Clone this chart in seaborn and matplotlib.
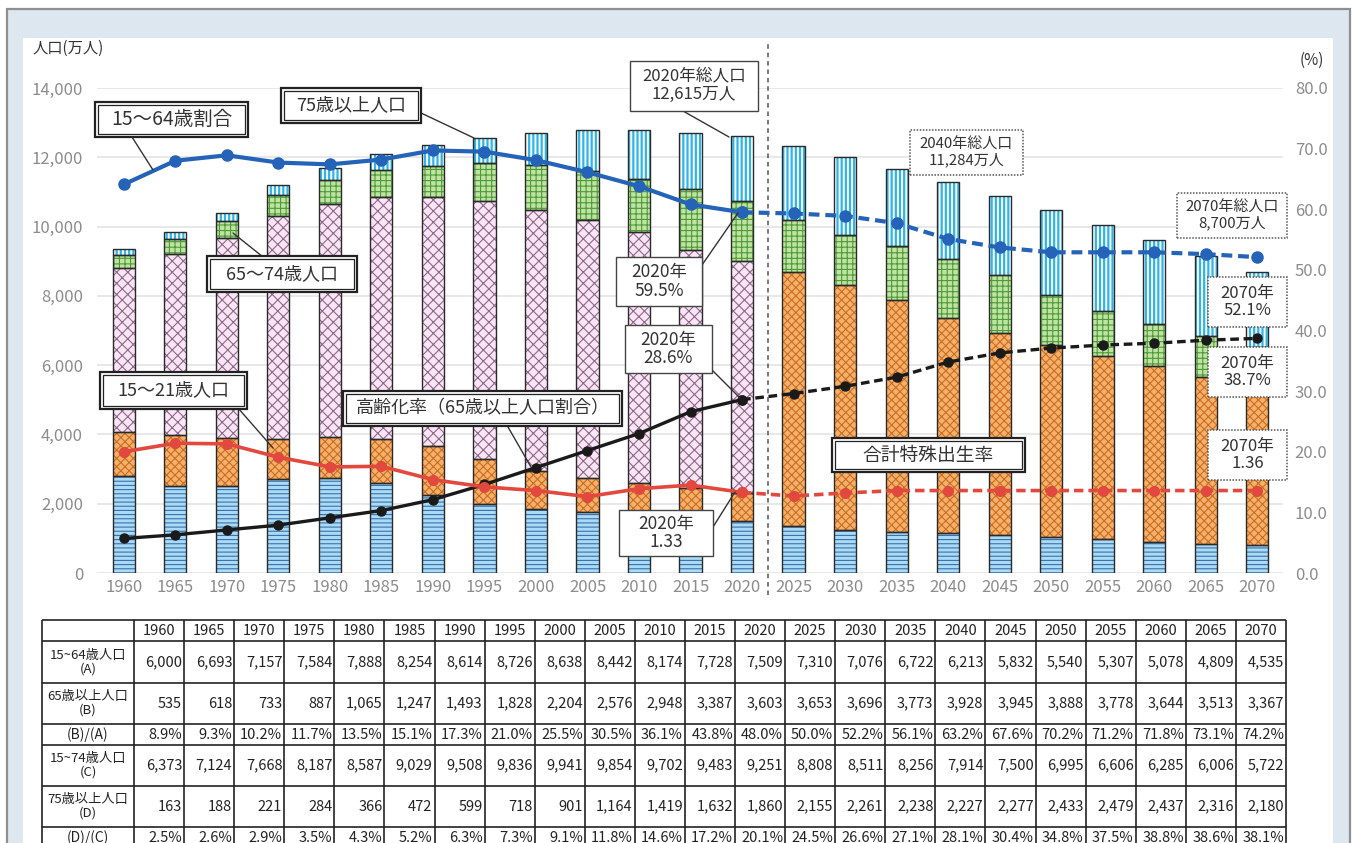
import numpy as np
import matplotlib
matplotlib.use("Agg")
import matplotlib.pyplot as plt
from matplotlib.patches import Rectangle
from matplotlib.lines import Line2D
import seaborn as sns

# ---------------- data ----------------
years = [1960, 1965, 1970, 1975, 1980, 1985, 1990, 1995, 2000, 2005, 2010, 2015,
         2020, 2025, 2030, 2035, 2040, 2045, 2050, 2055, 2060, 2065, 2070]
year_labels = [str(y) for y in years]

# stacked bar segments (万人)
pop_0_14 = [2810, 2520, 2500, 2720, 2750, 2600, 2250, 2000, 1850, 1760, 1680, 1590,
            1500, 1370, 1250, 1170, 1150, 1110, 1040, 970, 900, 840, 800]
pop_15_21 = [1270, 1460, 1390, 1140, 1170, 1260, 1420, 1280, 1100, 970, 910, 870,
             820, 7310, 7076, 6722, 6213, 5832, 5540, 5307, 5078, 4809, 4535]
pop_22_64 = [4730, 5233, 5767, 6444, 6718, 6994, 7194, 7446, 7538, 7472, 7264, 6858,
             6689, 0, 0, 0, 0, 0, 0, 0, 0, 0, 0]
pop_65_74 = [372, 430, 512, 603, 699, 775, 894, 1110, 1303, 1412, 1529, 1755,
             1743, 1498, 1435, 1535, 1701, 1668, 1455, 1299, 1207, 1197, 1187]
pop_75_plus = [163, 188, 221, 284, 366, 472, 599, 718, 901, 1164, 1419, 1632,
               1860, 2155, 2261, 2238, 2227, 2277, 2433, 2479, 2437, 2316, 2180]

# line series (%)
ratio_15_64 = [64.1, 68.0, 68.9, 67.7, 67.4, 68.2, 69.7, 69.5, 68.1, 66.1, 63.8, 60.8,
               59.5, 59.3, 58.9, 57.7, 55.1, 53.7, 52.9, 52.9, 52.9, 52.6, 52.1]
aging_rate = [5.7, 6.3, 7.1, 7.9, 9.1, 10.3, 12.1, 14.6, 17.4, 20.2, 23.0, 26.6,
              28.6, 29.6, 30.8, 32.3, 34.8, 36.3, 37.1, 37.6, 37.9, 38.4, 38.7]
fertility = [2.00, 2.14, 2.13, 1.91, 1.75, 1.76, 1.54, 1.42, 1.36, 1.26, 1.39, 1.45,
             1.33, 1.27, 1.32, 1.36, 1.36, 1.36, 1.36, 1.36, 1.36, 1.36, 1.36]

left_ticks = [0, 2000, 4000, 6000, 8000, 10000, 12000, 14000]
right_ticks = [0, 10, 20, 30, 40, 50, 60, 70, 80]

# table
tbl_labels = ["15~64歳人口\n(A)", "65歳以上人口\n(B)", "(B)/(A)",
              "15~74歳人口\n(C)", "75歳以上人口\n(D)", "(D)/(C)"]
tbl_a = [6000, 6693, 7157, 7584, 7888, 8254, 8614, 8726, 8638, 8442, 8174, 7728,
         7509, 7310, 7076, 6722, 6213, 5832, 5540, 5307, 5078, 4809, 4535]
tbl_b = [535, 618, 733, 887, 1065, 1247, 1493, 1828, 2204, 2576, 2948, 3387,
         3603, 3653, 3696, 3773, 3928, 3945, 3888, 3778, 3644, 3513, 3367]
tbl_ba = [8.9, 9.3, 10.2, 11.7, 13.5, 15.1, 17.3, 21.0, 25.5, 30.5, 36.1, 43.8,
          48.0, 50.0, 52.2, 56.1, 63.2, 67.6, 70.2, 71.2, 71.8, 73.1, 74.2]
tbl_c = [6373, 7124, 7668, 8187, 8587, 9029, 9508, 9836, 9941, 9854, 9702, 9483,
         9251, 8808, 8511, 8256, 7914, 7500, 6995, 6606, 6285, 6006, 5722]
tbl_d = [163, 188, 221, 284, 366, 472, 599, 718, 901, 1164, 1419, 1632,
         1860, 2155, 2261, 2238, 2227, 2277, 2433, 2479, 2437, 2316, 2180]
tbl_dc = [2.5, 2.6, 2.9, 3.5, 4.3, 5.2, 6.3, 7.3, 9.1, 11.8, 14.6, 17.2,
          20.1, 24.5, 26.6, 27.1, 28.1, 30.4, 34.8, 37.5, 38.8, 38.6, 38.1]

# ---------------- style ----------------
sns.set_theme(style="white")
plt.rcParams["font.family"] = ["Noto Sans CJK JP", "DejaVu Sans"]
plt.rcParams["hatch.linewidth"] = 0.8

W, H = 1353, 843
fig = plt.figure(figsize=(W / 100, H / 100), dpi=100, facecolor="white")


def fx(x):
    return x / W


def fy(y):
    return 1 - y / H


# background panels
fig.add_artist(Rectangle((fx(7), fy(870)), (1350 - 7) / W, (870 - 9) / H,
                         transform=fig.transFigure, fc="#dde7ef", ec="#8f8f8f", lw=1.6, zorder=-10))
fig.add_artist(Rectangle((fx(23), fy(870)), (1333 - 23) / W, (870 - 38) / H,
                         transform=fig.transFigure, fc="white", ec="none", zorder=-9))

ax = fig.add_axes([fx(97), fy(573), (1283 - 97) / W, (573 - 88) / H])
ax.set_facecolor("none")

n = len(years)
layers = [
    (pop_0_14, "#a9dcf4", "#3d6fae", "----"),
    (pop_15_21, "#f6b06a", "#c96e22", "xxxx"),
    (pop_22_64, "#fbe4f6", "#8a6a86", "xxx"),
    (pop_65_74, "#bfe3a2", "#4f9a38", "+++"),
    (pop_75_plus, "#2db4e8", "white", "||||"),
]
bottom = np.zeros(n)
for vals, fc, hc, hatch in layers:
    with plt.rc_context({"hatch.linewidth": 1.4 if hc == "white" else 0.8}):
        sns.barplot(x=year_labels, y=vals, order=year_labels, bottom=bottom, color=fc,
                    saturation=1, width=0.43, edgecolor=hc, linewidth=0, hatch=hatch,
                    errorbar=None, ax=ax, zorder=2)
    bottom = bottom + np.array(vals, dtype=float)

for p in list(ax.patches):
    if p.get_height() > 0:
        ax.add_patch(Rectangle(p.get_xy(), p.get_width(), p.get_height(), fill=False,
                               ec="#2a2a2a", lw=1.0, zorder=3))

ax.set_xlim(-0.52, 22.5)
ax.set_ylim(0, 14000)
ax.set_yticks(left_ticks)
ax.set_yticklabels([f"{v:,}" for v in left_ticks])
ax.set_xlabel("")
ax.set_ylabel("")
ax.yaxis.grid(True, color="#e6e6e6", lw=1.3)
ax.set_axisbelow(True)
ax.tick_params(axis="x", length=0, pad=4, labelsize=12, labelcolor="#8c8c8c")
ax.tick_params(axis="y", length=0, pad=10, labelsize=12, labelcolor="#8c8c8c")
for s in ax.spines.values():
    s.set_visible(False)

# divider between actual / projection
ax.axvline(12.5, ymin=-0.045, ymax=1.093, clip_on=False, color="#555555",
           lw=1.1, ls=(0, (3, 2.5)), zorder=1)

ax2 = ax.twinx()
ax2.set_ylim(0, 80)
ax2.set_yticks(right_ticks)
ax2.set_yticklabels([f"{v:.1f}" for v in right_ticks])
ax2.tick_params(axis="y", length=0, pad=8.5, labelsize=12, labelcolor="#8c8c8c")
for s in ax2.spines.values():
    s.set_visible(False)
ax2.grid(False)

x = np.arange(n)
proj = 12


def draw_line(vals, color, lw, ms):
    v = np.array(vals, dtype=float)
    ax2.plot(x[:proj + 1], v[:proj + 1], color=color, lw=lw, marker="o", ms=ms,
             solid_capstyle="round", zorder=4)
    ax2.plot(x[proj:], v[proj:], color=color, lw=lw, marker="o", ms=ms,
             ls=(0, (2.6, 1.4)), zorder=4)


draw_line(ratio_15_64, "#2563b8", 3.0, 8)
draw_line(aging_rate, "#1a1a1a", 2.4, 6.5)
draw_line(np.array(fertility) * 10, "#e2483d", 2.6, 7)
ax2.set_xlim(-0.52, 22.5)

# axis titles
fig.text(fx(33), fy(48), "人口(万人)", ha="left", va="center", fontsize=11, color="#333333")
fig.text(fx(1312), fy(60), "(%)", ha="center", va="center", fontsize=11, color="#333333")


# ---------------- annotations ----------------
def box(l, t, r, b, text, fs, kind):
    if kind == "double":
        fig.add_artist(Rectangle((fx(l), fy(b)), (r - l) / W, (b - t) / H, transform=fig.transFigure,
                                 fc="white", ec="#222222", lw=1.6, zorder=6))
        fig.add_artist(Rectangle((fx(l + 3), fy(b - 3)), (r - l - 6) / W, (b - t - 6) / H,
                                 transform=fig.transFigure, fc="none", ec="#222222", lw=0.9, zorder=6.1))
    elif kind == "solid":
        fig.add_artist(Rectangle((fx(l), fy(b)), (r - l) / W, (b - t) / H, transform=fig.transFigure,
                                 fc="white", ec="#444444", lw=1.0, zorder=6))
    else:
        fig.add_artist(Rectangle((fx(l), fy(b)), (r - l) / W, (b - t) / H, transform=fig.transFigure,
                                 fc="white", ec="#555555", lw=1.1, ls=(0, (1, 1)), zorder=6))
    fig.text(fx((l + r) / 2), fy((t + b) / 2), text, ha="center", va="center", fontsize=fs,
             color="#333333", linespacing=1.05, zorder=7)


def leader(x0, y0, x1, y1):
    fig.add_artist(Line2D([fx(x0), fx(x1)], [fy(y0), fy(y1)], transform=fig.transFigure,
                          color="#333333", lw=1.0, zorder=5))


leader(132, 137, 153, 170)
leader(421, 113, 474, 138)
leader(263, 257, 233, 233)
leader(238, 408, 273, 448)
leader(508, 427, 531, 467)
leader(683, 111, 729, 137)
leader(702, 265, 738, 213)
leader(712, 370, 740, 398)
leader(713, 527, 735, 492)

box(95, 102, 248, 137, "15～64歳割合", 14, "double")
box(281, 88, 421, 123, "75歳以上人口", 13, "double")
box(207, 256, 357, 292, "65～74歳人口", 13, "double")
box(100, 372, 247, 409, "15～21歳人口", 13, "double")
box(343, 391, 622, 426, "高齢化率（65歳以上人口割合）", 13, "double")
box(832, 438, 1025, 472, "合計特殊出生率", 13.5, "double")
box(630, 61, 758, 111, "2020年総人口\n12,615万人", 12, "solid")
box(616, 257, 702, 306, "2020年\n59.5%", 12.5, "solid")
box(625, 325, 712, 373, "2020年\n28.6%", 12.5, "solid")
box(619, 510, 713, 556, "2020年\n1.33", 12.5, "solid")
box(910, 130, 1023, 175, "2040年総人口\n11,284万人", 10.8, "dotted")
box(1177, 193, 1287, 238, "2070年総人口\n8,700万人", 10.8, "dotted")
box(1208, 277, 1287, 327, "2070年\n52.1%", 12, "dotted")
box(1208, 347, 1287, 397, "2070年\n38.7%", 12, "dotted")
box(1208, 430, 1287, 480, "2070年\n1.36", 12, "dotted")

# ---------------- table ----------------
T_L, T_R, T_T, T_B = 42, 1286, 620, 849
tab = fig.add_axes([fx(T_L), fy(T_B), (T_R - T_L) / W, (T_B - T_T) / H])
tab.set_xlim(T_L, T_R)
tab.set_ylim(T_B, T_T)
tab.axis("off")
row_edges = [620, 641, 683, 724, 745, 786, 827, 849]
label_r = 134
cw = (T_R - label_r) / n
col_edges = [T_L, label_r] + [label_r + cw * (k + 1) for k in range(n)]
tab.hlines(row_edges, T_L, T_R, color="#222222", lw=1.2, clip_on=False)
tab.vlines(col_edges, T_T, T_B, color="#222222", lw=1.2, clip_on=False)

for k, yl in enumerate(year_labels):
    tab.text(label_r + cw * (k + 0.5), (row_edges[0] + row_edges[1]) / 2, yl,
             ha="center", va="center", fontsize=10.5, color="#222222")

rows = [
    [f"{v:,}" for v in tbl_a],
    [f"{v:,}" for v in tbl_b],
    [f"{v:.1f}%" for v in tbl_ba],
    [f"{v:,}" for v in tbl_c],
    [f"{v:,}" for v in tbl_d],
    [f"{v:.1f}%" for v in tbl_dc],
]
for r, (lab, vals) in enumerate(zip(tbl_labels, rows)):
    yc = (row_edges[r + 1] + row_edges[r + 2]) / 2
    tab.text((T_L + label_r) / 2, yc, lab, ha="center", va="center",
             fontsize=9.5 if "\n" in lab else 10, color="#222222", linespacing=1.05, clip_on=False)
    for k, s in enumerate(vals):
        tab.text(label_r + cw * (k + 1) - 2, yc, s, ha="right", va="center",
                 fontsize=10.5, color="#222222", clip_on=False)

fig.savefig("out.png", dpi=100)
